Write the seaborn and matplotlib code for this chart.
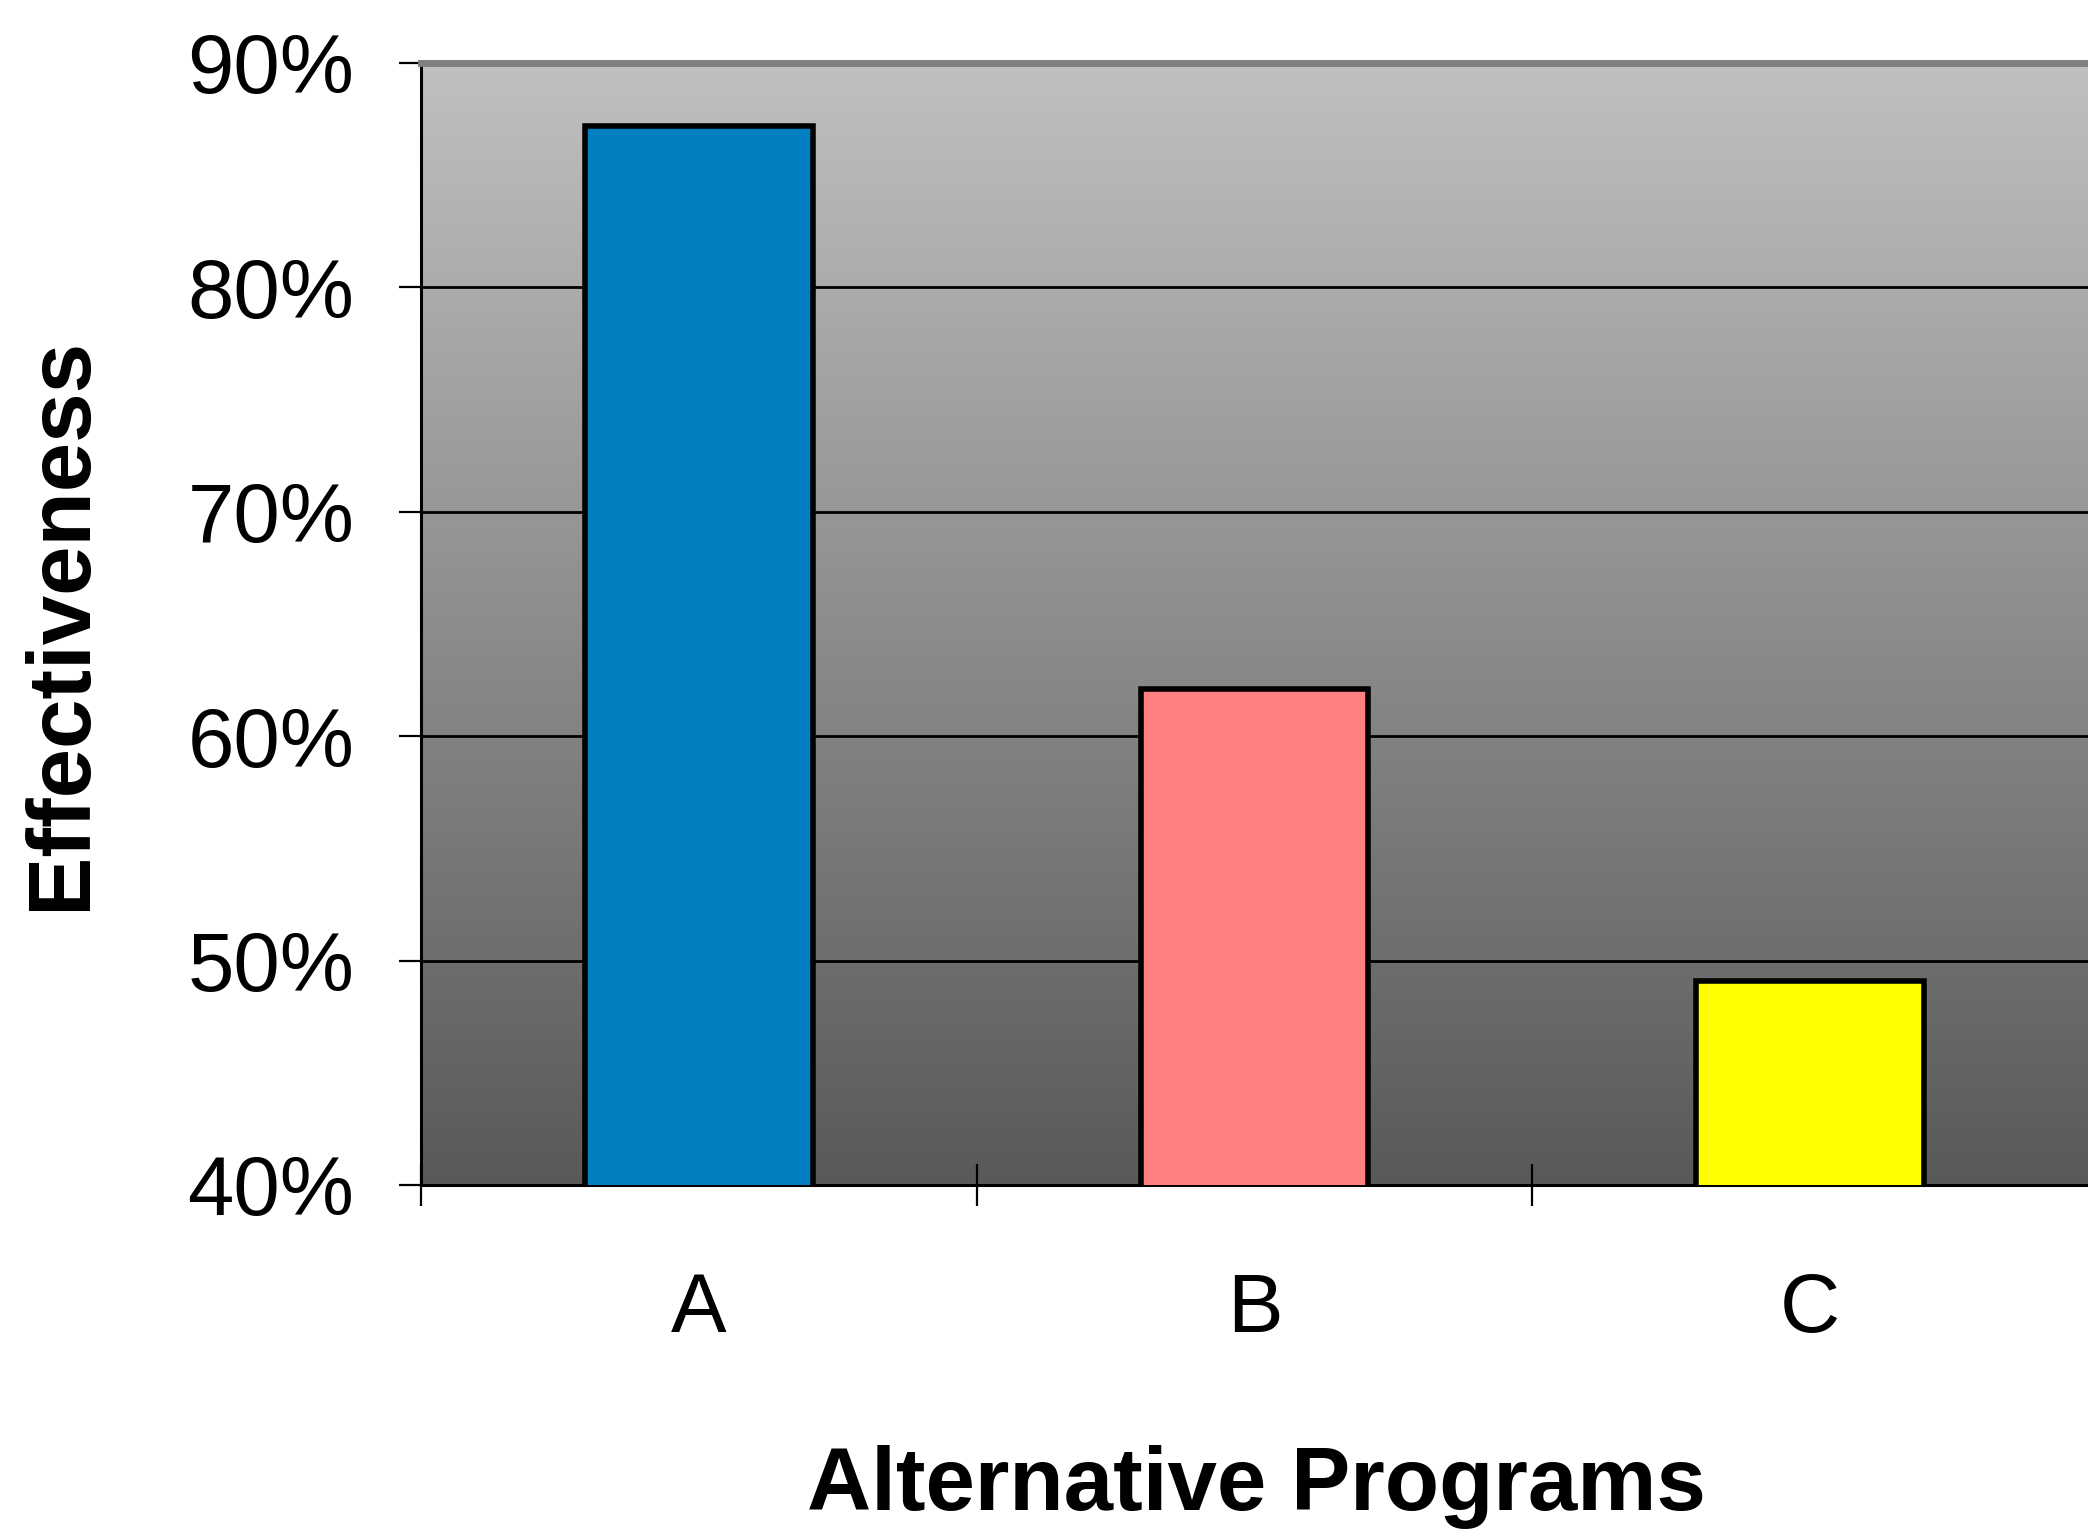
import numpy as np
import pandas as pd
import matplotlib
matplotlib.use("Agg")
import matplotlib.pyplot as plt
from matplotlib.ticker import FuncFormatter, FixedLocator
import seaborn as sns

programs = ["A", "B", "C"]
effectiveness = [87.2, 62.1, 49.1]
bar_colors = ["#0080C0", "#FF8080", "#FFFF00"]
y_ticks = [40, 50, 60, 70, 80, 90]

df = pd.DataFrame({"Program": programs, "Effectiveness": effectiveness})

sns.set_style("white")
plt.rcParams["font.family"] = ["Liberation Sans", "DejaVu Sans"]
plt.rcParams["text.color"] = "black"
plt.rcParams["axes.labelcolor"] = "black"
plt.rcParams["xtick.color"] = "black"
plt.rcParams["ytick.color"] = "black"

fig = plt.figure(figsize=(20.88, 15.31), dpi=100)
ax = fig.add_axes([0.2016, 0.226, 0.7984, 0.733])

sns.barplot(data=df, x="Program", y="Effectiveness", hue="Program",
            palette=bar_colors, saturation=1, width=0.41, edgecolor="black",
            linewidth=4, legend=False, ax=ax, zorder=3)

ax.set_xlim(-0.5, 2.5)
ax.set_ylim(40, 90)

# gray gradient background, light at top and dark at bottom
grad = np.linspace(0, 1, 256).reshape(-1, 1)
cmap = matplotlib.colors.LinearSegmentedColormap.from_list("bg", ["#595959", "#c0c0c0"])
ax.imshow(grad, extent=[-0.5, 2.5, 40, 90], origin="lower", aspect="auto",
          cmap=cmap, zorder=0)

for y in y_ticks[1:-1]:
    ax.axhline(y, color="black", linewidth=2.0, zorder=1)

ax.set_yticks(y_ticks)
ax.yaxis.set_major_formatter(FuncFormatter(lambda v, p: f"{v:.0f}%"))
ax.tick_params(axis="y", direction="out", length=16, width=1.6,
               pad=32, labelsize=60, left=True)

ax.set_xticks([0, 1, 2])
ax.set_xticklabels(programs)
ax.tick_params(axis="x", which="major", length=0, pad=62, labelsize=60)
ax.xaxis.set_minor_locator(FixedLocator([-0.5, 0.5, 1.5]))
ax.tick_params(axis="x", which="minor", direction="inout", length=30,
               width=1.6, bottom=True)

for side in ["left", "bottom"]:
    ax.spines[side].set_visible(True)
    ax.spines[side].set_color("black")
    ax.spines[side].set_linewidth(2.2)
ax.spines["right"].set_visible(False)
ax.spines["top"].set_color("#808080")
ax.spines["top"].set_linewidth(5)

ax.set_xlabel("Alternative Programs", fontsize=64, fontweight="bold")
ax.set_ylabel("Effectiveness", fontsize=64, fontweight="bold")
ax.xaxis.set_label_coords(0.501, -0.232)
ax.yaxis.set_label_coords(-0.19, 0.5)

fig.savefig("out.png", dpi=100)
